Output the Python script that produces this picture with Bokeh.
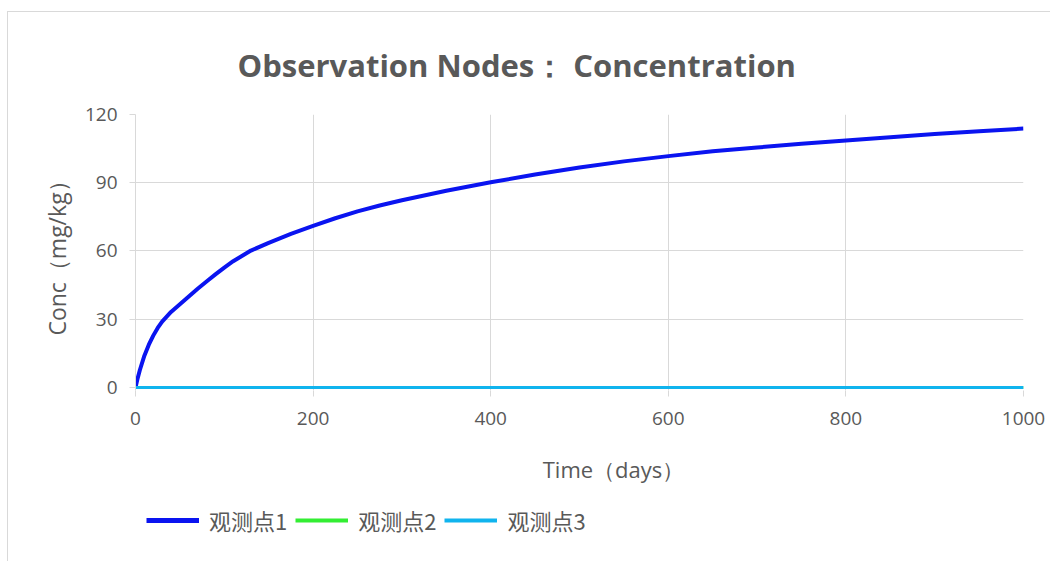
from bokeh.plotting import figure
from bokeh.layouts import column
from bokeh.models import Range1d, Legend, LegendItem, FixedTicker, Label
from bokeh.embed import file_html
from bokeh.resources import INLINE

# ---- data ----
days = [0, 2, 5, 10, 15, 20, 25, 30, 40, 50, 60, 70, 80, 90, 100, 110, 130, 150, 175, 200,
        225, 250, 275, 300, 350, 400, 450, 500, 550, 600, 650, 700, 750, 800, 850, 900, 950, 1000]
node1 = [0, 3.4, 7.8, 14.0, 18.8, 22.8, 26.2, 29.0, 33.2, 36.6, 40.0, 43.4, 46.6, 49.7, 52.7,
         55.5, 60.2, 63.6, 67.5, 71.0, 74.4, 77.4, 80.0, 82.3, 86.5, 90.2, 93.6, 96.7, 99.4,
         101.7, 103.8, 105.5, 107.1, 108.6, 110.0, 111.4, 112.6, 113.8]
node2 = [0] * len(days)
node3 = [0] * len(days)
series = [node1, node2, node3]
series_names = ["观测点1", "观测点2", "观测点3"]
series_colors = ["#0A14F0", "#33EE33", "#10B4EE"]
series_widths = [4, 3, 3]
x_ticks = [0, 200, 400, 600, 800, 1000]
y_ticks = [0, 30, 60, 90, 120]
title_text = "Observation Nodes： Concentration"
x_title = "Time（days）"
y_title = "Conc（mg/kg）"

TXT = "#595959"
GRID = "#d9d9d9"

# ---- main chart ----
p = figure(width=1042, height=427, x_range=Range1d(0, 1000), y_range=Range1d(-1.32, 120),
           output_backend="svg", toolbar_location=None,
           min_border_left=127, min_border_right=27, min_border_top=102, min_border_bottom=49)
p.outline_line_color = None
p.background_fill_color = "white"
p.border_fill_color = "white"

for ax in (p.xaxis[0], p.yaxis[0]):
    ax.axis_line_color = GRID
    ax.major_tick_line_color = GRID
    ax.minor_tick_line_color = None
    ax.major_tick_in = 0
    ax.major_tick_out = 6
    ax.major_label_text_color = TXT
    ax.major_label_text_font = "Open Sans"
    ax.major_label_text_font_size = "19px"
    ax.major_label_standoff = 12
p.xaxis.major_label_standoff = 15
p.xaxis.axis_line_color = None
p.xaxis.ticker = FixedTicker(ticks=x_ticks)
p.yaxis.ticker = FixedTicker(ticks=y_ticks)
p.yaxis.axis_label = y_title
p.yaxis.axis_label_text_font = "Open Sans"
p.yaxis.axis_label_text_font_style = "normal"
p.yaxis.axis_label_text_font_size = "23px"
p.yaxis.axis_label_text_color = TXT
p.yaxis.axis_label_standoff = 9
p.xgrid.grid_line_color = GRID
p.ygrid.grid_line_color = GRID

for ys, c, w in zip(series, series_colors, series_widths):
    p.line(days, ys, line_color=c, line_width=w)

p.title.text = title_text
p.title.align = "left"
p.title.offset = 102
p.title.standoff = 58
p.title.text_color = TXT
p.title.text_font = "Open Sans"
p.title.text_font_style = "bold"
p.title.text_font_size = "31px"

# ---- bottom strip: x-axis title and legend ----
q = figure(width=1042, height=122, x_range=Range1d(-20, -10), y_range=Range1d(-20, -10),
           output_backend="svg", toolbar_location=None,
           x_axis_location=None, y_axis_location=None,
           min_border_left=127, min_border_right=27, min_border_top=0, min_border_bottom=0)
q.outline_line_color = None
q.xgrid.visible = False
q.ygrid.visible = False
q.border_fill_color = "white"

items = []
for name, ys, c, w in zip(series_names, series, series_colors, series_widths):
    r = q.line(days, ys, line_color=c, line_width=w + 1)
    items.append(LegendItem(label=name, renderers=[r]))

legend = Legend(items=items, orientation="horizontal", location=(11, 25),
                padding=0, margin=0, spacing=8, label_standoff=10,
                glyph_width=53, glyph_height=22, label_height=22,
                label_text_font="Noto Sans CJK SC", label_text_font_size="22px",
                label_text_color=TXT, border_line_alpha=0, background_fill_alpha=0)
q.add_layout(legend)

q.add_layout(Label(x=478, y=93, x_units="screen", y_units="screen", text=x_title,
                   text_align="center", text_baseline="middle", text_color=TXT,
                   text_font="Open Sans", text_font_size="22px"))

layout = column(p, q, spacing=0,
                styles={"border-top": "1px solid #d9d9d9", "border-left": "1px solid #d9d9d9",
                        "margin-top": "11px", "margin-left": "7px"})

open("out.html", "w").write(file_html(layout, INLINE))
